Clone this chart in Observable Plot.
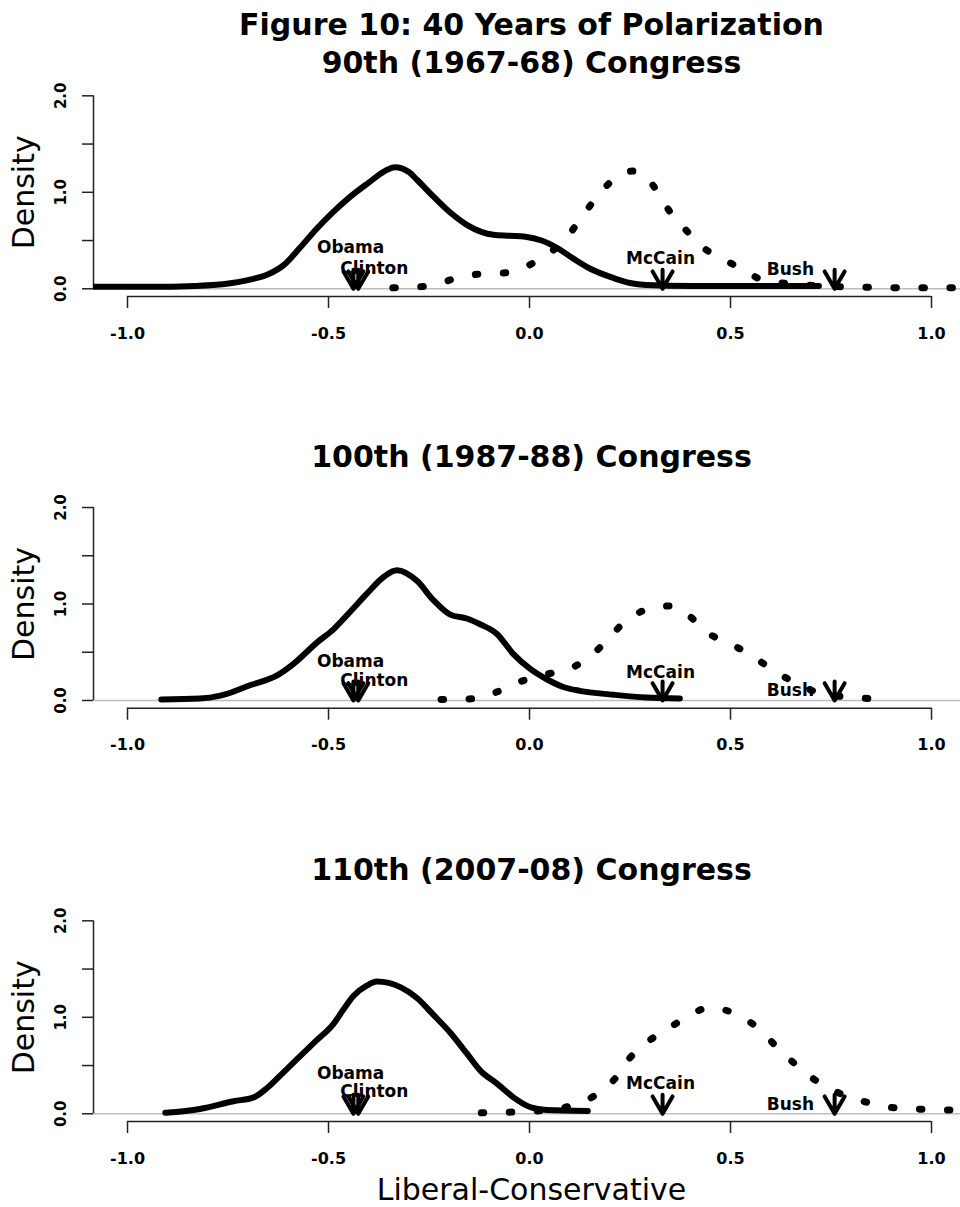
<!DOCTYPE html>
<html>
<head>
<meta charset="utf-8">
<script src="https://cdn.jsdelivr.net/npm/d3@7"></script>
<script src="https://cdn.jsdelivr.net/npm/@observablehq/plot@0.6"></script>
<style>
  body { margin: 0; background: #fff; }
  #chart { width: 960px; height: 1207px; overflow: hidden; background: #fff; }
  #chart svg { display: block; }
</style>
</head>
<body>
<div id="chart"></div>
<script>
// ---- Text ----
const mainTitle = "Figure 10: 40 Years of Polarization";
const congresses = ["90th (1967-68) Congress", "100th (1987-88) Congress", "110th (2007-08) Congress"];
const xLabel = "Liberal-Conservative";
const yLabel = "Density";

// ---- Axes ----
const xDomain = [-1.0846, 1.0945];
const yDomain = [-0.08, 2.08];
const xTicks = [-1, -0.5, 0, 0.5, 1];
const yTicks = [0, 0.5, 1, 1.5, 2];
const yTickLabels = [0, 1, 2];

// ---- Politicians (ideal points) ----
const politicians = ["Obama", "Clinton", "McCain", "Bush"];
const politicianScores = [-0.438, -0.426, 0.331, 0.759];
const labelX = [-0.445, -0.386, 0.326, 0.649];
const labelY90 = [0.43, 0.21, 0.31, 0.20];
const labelY100 = [0.40, 0.21, 0.29, 0.10];
const labelY110 = [0.42, 0.23, 0.31, 0.10];

// ---- 90th Congress densities ----
const dem90X = [-1.10, -0.95, -0.83, -0.74, -0.69, -0.65, -0.61, -0.57, -0.53, -0.49, -0.45, -0.40, -0.36, -0.335, -0.30, -0.28, -0.24, -0.20, -0.155, -0.12, -0.09, -0.05, -0.01, 0.03, 0.07, 0.11, 0.15, 0.21, 0.25, 0.29, 0.40, 0.55, 0.72];
const dem90Y = [0.02, 0.02, 0.03, 0.06, 0.10, 0.15, 0.25, 0.43, 0.62, 0.79, 0.94, 1.10, 1.22, 1.26, 1.21, 1.13, 0.96, 0.80, 0.66, 0.59, 0.56, 0.55, 0.54, 0.50, 0.42, 0.31, 0.21, 0.11, 0.06, 0.04, 0.03, 0.03, 0.03];
const rep90X = [-0.34, -0.25, -0.19, -0.13, -0.05, 0.006, 0.05, 0.096, 0.133, 0.175, 0.217, 0.255, 0.285, 0.316, 0.349, 0.391, 0.431, 0.481, 0.535, 0.58, 0.655, 0.72, 0.79, 0.86, 0.95, 1.10];
const rep90Y = [0.01, 0.03, 0.10, 0.15, 0.17, 0.26, 0.37, 0.55, 0.76, 0.99, 1.16, 1.22, 1.18, 1.02, 0.80, 0.60, 0.43, 0.31, 0.19, 0.09, 0.05, 0.03, 0.02, 0.015, 0.01, 0.01];

// ---- 100th Congress densities ----
const dem100X = [-0.916, -0.82, -0.769, -0.694, -0.628, -0.587, -0.529, -0.487, -0.446, -0.404, -0.363, -0.33, -0.28, -0.239, -0.197, -0.156, -0.123, -0.081, -0.04, 0.001, 0.043, 0.084, 0.125, 0.208, 0.29, 0.374];
const dem100Y = [0.01, 0.02, 0.05, 0.16, 0.26, 0.38, 0.60, 0.74, 0.92, 1.11, 1.28, 1.35, 1.24, 1.04, 0.89, 0.85, 0.79, 0.69, 0.48, 0.33, 0.22, 0.14, 0.10, 0.06, 0.03, 0.02];
const rep100X = [-0.22, -0.13, -0.08, -0.02, 0.04, 0.10, 0.155, 0.192, 0.233, 0.283, 0.349, 0.399, 0.44, 0.49, 0.54, 0.59, 0.64, 0.705, 0.76, 0.81, 0.89];
const rep100Y = [0.01, 0.02, 0.09, 0.20, 0.27, 0.33, 0.47, 0.62, 0.80, 0.93, 0.98, 0.87, 0.71, 0.60, 0.50, 0.36, 0.23, 0.10, 0.05, 0.03, 0.01];

// ---- 110th Congress densities ----
const dem110X = [-0.906, -0.82, -0.736, -0.686, -0.652, -0.612, -0.57, -0.53, -0.488, -0.463, -0.438, -0.404, -0.38, -0.32, -0.28, -0.24, -0.197, -0.155, -0.123, -0.08, -0.04, 0.001, 0.043, 0.145];
const dem110Y = [0.01, 0.05, 0.13, 0.17, 0.27, 0.43, 0.60, 0.76, 0.93, 1.08, 1.22, 1.33, 1.37, 1.31, 1.20, 1.03, 0.84, 0.62, 0.45, 0.31, 0.17, 0.07, 0.04, 0.03];
const rep110X = [-0.12, -0.03, 0.05, 0.108, 0.163, 0.212, 0.25, 0.292, 0.344, 0.39, 0.448, 0.515, 0.568, 0.618, 0.665, 0.714, 0.767, 0.83, 0.89, 0.96, 1.03, 1.10];
const rep110Y = [0.01, 0.02, 0.04, 0.09, 0.19, 0.36, 0.58, 0.74, 0.88, 1.00, 1.10, 1.03, 0.89, 0.68, 0.50, 0.34, 0.22, 0.13, 0.07, 0.05, 0.04, 0.04];

// ---- helpers ----
const toPoints = (xs, ys) => xs.map((x, i) => ({x, y: ys[i]}));
const fmt = d => d.toFixed(1);

// R-style arrow: shaft plus open "V" head (30 degree wings)
const arrowShape = {
  draw(context, l) {
    const w = 20, a = Math.PI / 6;
    context.moveTo(0, 0);
    context.lineTo(0, -l);
    context.moveTo(-w * Math.sin(a), -l + w * Math.cos(a));
    context.lineTo(0, -l);
    context.lineTo(w * Math.sin(a), -l + w * Math.cos(a));
  }
};

const panels = [
  {title: mainTitle + "\n" + congresses[0], dem: toPoints(dem90X, dem90Y), rep: toPoints(rep90X, rep90Y), labelY: labelY90,
   height: 400, marginTop: 87.6, marginBottom: 104, titleDy: -46.6, xTitle: false},
  {title: congresses[1], dem: toPoints(dem100X, dem100Y), rep: toPoints(rep100X, rep100Y), labelY: labelY100,
   height: 412, marginTop: 99.3, marginBottom: 104.3, titleDy: -45, xTitle: false},
  {title: congresses[2], dem: toPoints(dem110X, dem110Y), rep: toPoints(rep110X, rep110Y), labelY: labelY110,
   height: 395, marginTop: 100.6, marginBottom: 86, titleDy: -45, xTitle: true}
];

function panel(p) {
  const markers = politicians.map((name, i) => ({name, score: politicianScores[i], lx: labelX[i], ly: p.labelY[i]}));
  return Plot.plot({
    width: 960,
    height: p.height,
    marginLeft: 93,
    marginRight: -9,
    marginTop: p.marginTop,
    marginBottom: p.marginBottom,
    x: {domain: xDomain},
    y: {domain: yDomain},
    style: {fontFamily: "'DejaVu Sans', sans-serif", background: "white", color: "black", overflow: "hidden"},
    marks: [
      Plot.ruleY([0], {stroke: "#bdbdbd", strokeWidth: 1.5}),
      Plot.ruleX([xDomain[0]], {y1: yTicks[0], y2: yTicks[yTicks.length - 1], stroke: "#222", strokeWidth: 1.5}),
      Plot.axisY(yTicks, {tickSize: 11, fill: "none", stroke: "#222", strokeWidth: 1.5, label: null}),
      Plot.ruleY([yDomain[0]], {x1: xTicks[0], x2: xTicks[xTicks.length - 1], stroke: "#222", strokeWidth: 1.5}),
      Plot.axisX(xTicks, {tickSize: 12, fill: "none", stroke: "#222", strokeWidth: 1.5, label: null}),
      Plot.text(xTicks, {x: d => d, frameAnchor: "bottom", dy: 37, lineAnchor: "middle", textAnchor: "middle",
        text: fmt, fontSize: 16, fontWeight: "bold"}),
      Plot.text(yTickLabels, {y: d => d, frameAnchor: "left", dx: -32, rotate: -90, lineAnchor: "middle", textAnchor: "middle",
        text: fmt, fontSize: 15, fontWeight: "bold"}),
      Plot.text([yLabel], {frameAnchor: "left", dx: -69, rotate: -90, lineAnchor: "middle", textAnchor: "middle", fontSize: 30}),
      Plot.text([p.title], {frameAnchor: "top", dy: p.titleDy, lineAnchor: "middle", textAnchor: "middle",
        fontSize: 30, fontWeight: "bold", lineHeight: 1.27}),
      Plot.line(p.dem, {x: "x", y: "y", curve: "monotone-x", stroke: "black", strokeWidth: 6, clip: true}),
      Plot.line(p.rep, {x: "x", y: "y", curve: "monotone-x", stroke: "black", strokeWidth: 7,
        strokeDasharray: "2.5,25.5", strokeLinecap: "round", clip: true}),
      Plot.vector(markers, {x: "score", y: 0, length: 19, rotate: 180, anchor: "end", shape: arrowShape,
        stroke: "black", strokeWidth: 4}),
      Plot.text(markers, {x: "lx", y: "ly", text: "name", fontSize: 17, fontWeight: "bold"}),
      p.xTitle ? Plot.text([xLabel], {frameAnchor: "bottom", dy: 69, lineAnchor: "middle", textAnchor: "middle", fontSize: 30}) : null
    ]
  });
}

const chart = document.getElementById("chart");
for (const p of panels) chart.appendChild(panel(p));
</script>
</body>
</html>
